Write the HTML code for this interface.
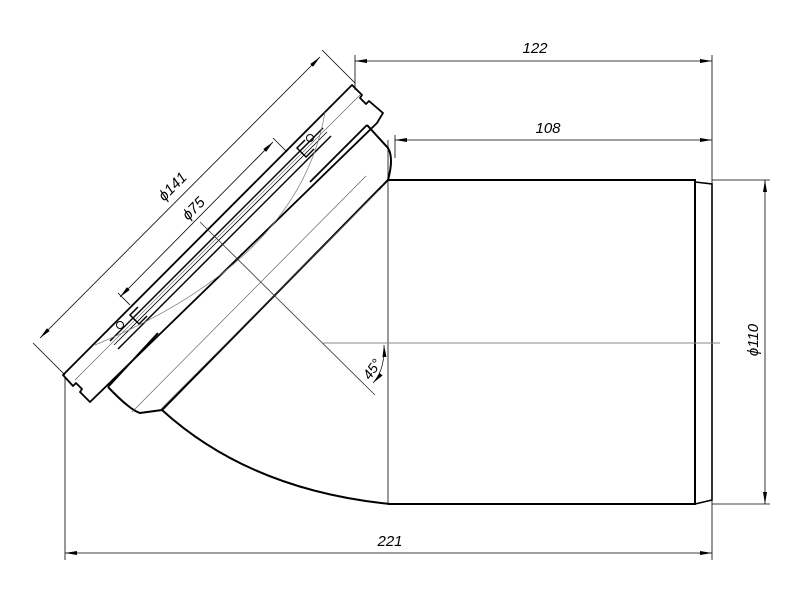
<!DOCTYPE html>
<html><head><style>html,body{margin:0;padding:0;background:#fff}svg{display:block}</style></head><body>
<svg width="800" height="600" viewBox="0 0 800 600" xmlns="http://www.w3.org/2000/svg" font-family="Liberation Sans, sans-serif" font-style="italic">
<defs>
<marker id="a" markerWidth="12" markerHeight="6" refX="12" refY="3" orient="auto" markerUnits="userSpaceOnUse"><path d="M0,1 L12,3 L0,5 Z" fill="#000"/></marker>
<marker id="b" markerWidth="12" markerHeight="6" refX="0" refY="3" orient="auto" markerUnits="userSpaceOnUse"><path d="M12,1 L0,3 L12,5 Z" fill="#000"/></marker>
</defs>
<g fill="none" stroke="#000">
<!-- straight pipe -->
<path d="M388,180 L695,180 L695,504 L388,504" stroke-width="2"/>
<path d="M695,182 L712,184 L712,500 L695,504" stroke-width="1.6"/>
<line x1="388" y1="140" x2="388" y2="504" stroke-width="0.8"/>
<!-- curve -->
<path d="M162,410 Q250,490 390,504" stroke-width="2"/>
<!-- socket body -->
<path d="M367,125 L388,148 Q394,158 388,180 L162,410 L140,413 Q130,410 108,387" stroke-width="2"/>
<line x1="160" y1="410" x2="379" y2="190" stroke-width="0.6" stroke="#555"/>
<line x1="132" y1="412" x2="366" y2="176" stroke-width="0.6" stroke="#555"/>
<line x1="310" y1="182" x2="367" y2="125" stroke-width="1.8"/>
<line x1="108" y1="387" x2="158" y2="333" stroke-width="1.8"/>
<!-- flange -->
<path d="M352,85 L362,95 L360,98 L366,104 L369,101 L383,113 L377,123 L90,402 L80,392 L82,389 L76,383 L73,386 L63,375 Z" stroke-width="1.8" stroke-linejoin="round"/>
<line x1="75" y1="380" x2="360" y2="95" stroke-width="0.6" stroke="#555"/>
<!-- seal lines -->
<path d="M323,128 L110,341" stroke-width="1.5"/>
<path d="M327,132 L114,345" stroke-width="0.8"/>
<path d="M331,136 L118,349" stroke-width="1.5"/>
<path d="M305,140 L297,148 L306,157 L314,149" stroke-width="1.5"/>
<path d="M138,307 L130,315 L139,324 L147,316" stroke-width="1.5"/>
<circle cx="310" cy="138" r="3.5" stroke-width="1"/>
<circle cx="120" cy="325" r="3.5" stroke-width="1"/>
<!-- thin arc -->
<path d="M325,112 Q300,260 95,345" stroke-width="0.7" stroke="#777"/>
<!-- centerlines -->
<line x1="323" y1="343" x2="720" y2="343" stroke-width="1" stroke="#888"/>
<line x1="200" y1="222" x2="375" y2="395" stroke-width="0.8" stroke="#333"/>
<path d="M384,345 Q385,370 373,383" stroke-width="0.7" marker-start="url(#b)" marker-end="url(#a)"/>
<!-- dimensions -->
<g stroke-width="0.8">
<line x1="355" y1="61" x2="712" y2="61" marker-start="url(#b)" marker-end="url(#a)"/>
<line x1="355" y1="55" x2="355" y2="90"/>
<line x1="712" y1="55" x2="712" y2="184"/>
<line x1="395" y1="140" x2="712" y2="140" marker-start="url(#b)" marker-end="url(#a)"/>
<line x1="395" y1="135" x2="395" y2="158"/>
<line x1="65" y1="553" x2="712" y2="553" marker-start="url(#b)" marker-end="url(#a)"/>
<line x1="65" y1="378" x2="65" y2="560"/>
<line x1="712" y1="500" x2="712" y2="560"/>
<line x1="765" y1="180" x2="765" y2="504" marker-start="url(#b)" marker-end="url(#a)"/>
<line x1="712" y1="180" x2="770" y2="180"/>
<line x1="712" y1="504" x2="770" y2="504"/>
<line x1="40" y1="338" x2="320" y2="57" marker-start="url(#b)" marker-end="url(#a)"/>
<line x1="322" y1="50" x2="355" y2="83"/>
<line x1="33" y1="343" x2="65" y2="375"/>
<line x1="120" y1="297" x2="273" y2="142" marker-start="url(#b)" marker-end="url(#a)"/>
<line x1="118" y1="293" x2="130" y2="305"/>
<line x1="273" y1="138" x2="287" y2="152"/>
</g>
</g>
<g font-size="15" fill="#000">
<text x="535" y="53" text-anchor="middle">122</text>
<text x="548" y="133" text-anchor="middle">108</text>
<text x="390" y="546" text-anchor="middle">221</text>
<text transform="translate(758,340) rotate(-90)" text-anchor="middle">ϕ110</text>
<text transform="translate(176,190) rotate(-45)" text-anchor="middle">ϕ141</text>
<text transform="translate(197,212) rotate(-45)" text-anchor="middle">ϕ75</text>
<text transform="translate(376,372) rotate(-55)" text-anchor="middle" font-size="14">45°</text>
</g>
</svg>
</body></html>
